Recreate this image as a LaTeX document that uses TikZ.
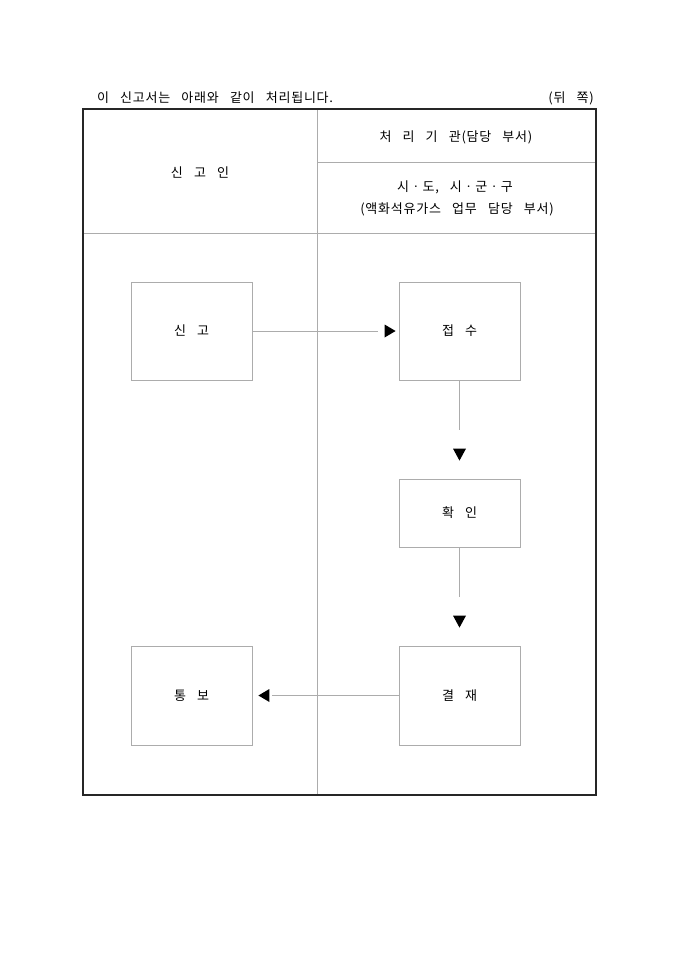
\documentclass[tikz,border=0pt]{standalone}
\usepackage{fontspec}
\setmainfont{Noto Sans CJK KR}[WordSpace=3,LetterSpace=6]
\usetikzlibrary{calc}
\begin{document}
\begin{tikzpicture}[x=1pt,y=-1pt,
  frame/.style={draw=black!85,line width=1.6pt},
  rule/.style={draw=gray!65,line width=0.8pt},
  box/.style={draw=gray!65,line width=0.8pt,minimum width=121pt,minimum height=98pt,inner sep=0pt,font=\fontsize{13}{15}\selectfont},
  conn/.style={draw=gray!65,line width=0.8pt},
  tip/.style={fill=black},
  lbl/.style={font=\fontsize{13}{15}\selectfont,inner sep=0pt}]
\useasboundingbox (0,0) rectangle (680,962);
\fill[white] (0,0) rectangle (680,962);
% header texts
\node[lbl,anchor=west] (hdr) at (97,98) {이 신고서는 아래와 같이 처리됩니다.};
\node[lbl,anchor=east] (side) at (594,98) {(뒤 쪽)};
% table rules
\draw[rule] (317,109) -- (317,795);
\draw[rule] (317,162) -- (596,162);
\draw[rule] (83,233) -- (596,233);
\draw[frame] (83,109) rectangle (596,795);
% table headings
\node[lbl] (applicant) at (200,173) {신 고 인};
\node[lbl] (agency) at (456,137) {처 리 기 관(담당 부서)};
\node[lbl] (city) at (455,187) {시ㆍ도, 시ㆍ군ㆍ구};
\node[lbl] (dept) at (457,209) {(액화석유가스 업무 담당 부서)};
% process boxes
\node[box] (sg) at (191.5,331) {신 고};
\node[box] (js) at (459.5,331) {접 수};
\node[box,minimum height=68pt] (hw) at (459.5,513) {확 인};
\node[box,minimum height=99pt] (tb) at (191.5,695.5) {통 보};
\node[box,minimum height=99pt] (gj) at (459.5,695.5) {결 재};
% connectors
\coordinate (t1) at ($(js.west)+(-3,0)$);
\draw[conn] (sg.east) -- ($(t1)+(-18,0)$);
\fill[tip] (t1) -- ++(-11,-6.5) -- ++(0,13) -- cycle;
\coordinate (t2) at ($(hw.north)+(0,-18)$);
\draw[conn] (js.south) -- ($(t2)+(0,-31)$);
\fill[tip] (t2) -- ++(-6.5,-12) -- ++(13,0) -- cycle;
\coordinate (t3) at ($(gj.north)+(0,-18)$);
\draw[conn] (hw.south) -- ($(t3)+(0,-31)$);
\fill[tip] (t3) -- ++(-6.5,-12) -- ++(13,0) -- cycle;
\coordinate (t4) at ($(tb.east)+(6,0)$);
\draw[conn] (gj.west) -- ($(t4)+(14,0)$);
\fill[tip] (t4) -- ++(11,-6.5) -- ++(0,13) -- cycle;
\end{tikzpicture}
\end{document}
